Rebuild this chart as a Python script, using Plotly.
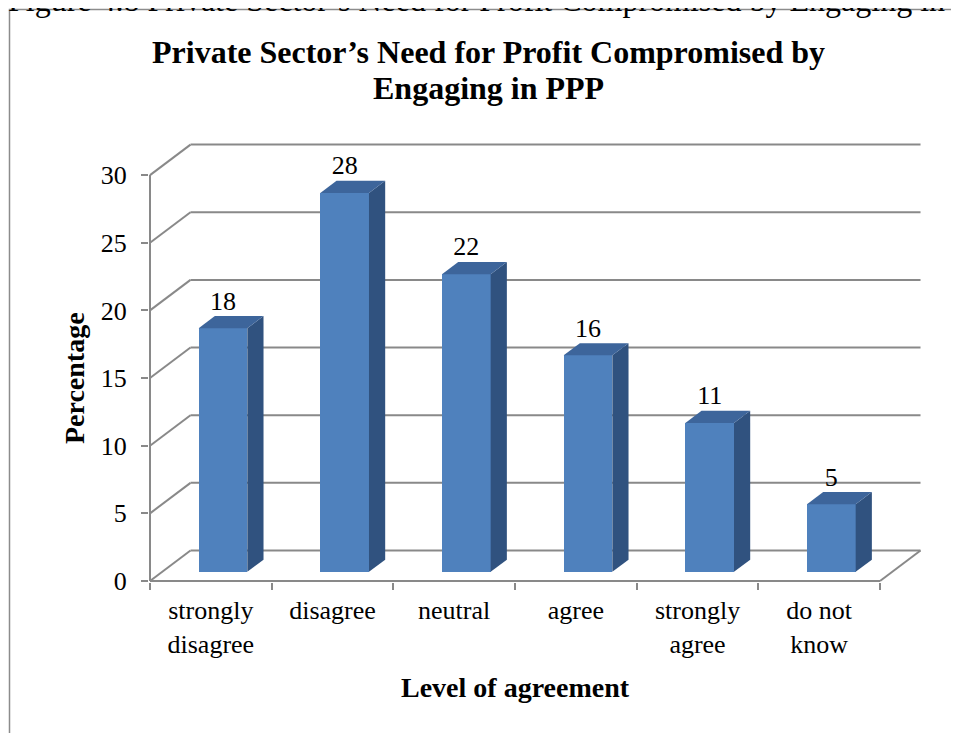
import plotly.graph_objects as go

# ---------------- data ----------------
categories = ["strongly<br>disagree", "disagree", "neutral", "agree", "strongly<br>agree", "do not<br>know"]
values = [18, 28, 22, 16, 11, 5]
y_ticks = [0, 5, 10, 15, 20, 25, 30]
title_lines = ["Private Sector’s Need for Profit Compromised by", "Engaging in PPP"]
x_title = "Level of agreement"
y_title = "Percentage"
caption = "Figure 4.8 Private Sector’s Need for Profit Compromised by Engaging in PPP"

# ---------------- layout / style constants ----------------
OFF = 8                # page body margin of the html page
W, H = 959 - OFF, 733 - OFF
ML, MR, MT, MB = 149 - OFF, 35, 142 - OFF, 151
PX_X = 121.67          # pixels per category
PX_Y = 13.53           # pixels per percentage point
plot_w = W - ML - MR
plot_h = H - MT - MB
x_range = [-1 / PX_X, (plot_w - 1) / PX_X]
y_range = [-1 / PX_Y, (plot_h - 1) / PX_Y]

DX = 40.5 / PX_X       # 3-D depth of the floor, in x units
DY = 30.5 / PX_Y       # 3-D depth of the floor, in y units
BAR_W = 0.4            # bar width (fraction of category)
BAR_FRONT = 0.3        # depth fraction where bar front face sits
BAR_D = 0.4            # bar depth fraction

FONT = "Times New Roman, Liberation Serif, serif"
GRID = "#898989"
FRONT_C = "#4F81BD"
SIDE_C = "#30527F"
TOP_C = "#3D659B"

n = len(categories)
ymax = max(y_ticks)

# helpers: reference-image pixel -> paper fraction
def px_to_paper_x(px):
    return (px - OFF - ML) / plot_w
def px_to_paper_y(py):
    return (H - MB - (py - OFF)) / plot_h

fig = go.Figure()

# ---------------- walls / gridlines (shapes below traces) ----------------
shapes = []
def seg(x0, y0, x1, y1):
    shapes.append(dict(type="line", xref="x", yref="y", x0=x0, y0=y0, x1=x1, y1=y1,
                       line=dict(color=GRID, width=2), layer="below"))

for t in y_ticks:
    seg(DX, t + DY, n + DX, t + DY)      # back wall gridline
    seg(0, t, DX, t + DY)                # side wall diagonal
seg(0, 0, n, 0)                          # floor front edge
seg(n, 0, n + DX, DY)                    # floor right edge
seg(0, 0, 0, ymax)                       # value axis line

# outer border of the chart box
shapes.append(dict(type="rect", xref="paper", yref="paper",
                   x0=px_to_paper_x(9.5), x1=px_to_paper_x(975),
                   y0=px_to_paper_y(745), y1=px_to_paper_y(9.5),
                   line=dict(color="#8c8c8c", width=1.5), layer="below"))

# ---------------- bars ----------------
base = BAR_FRONT * DY
x_off = BAR_FRONT * DX
centers = [i + 0.5 + x_off for i in range(n)]

fig.add_trace(go.Bar(
    x=centers, y=values, base=[base] * n, width=BAR_W,
    marker=dict(color=FRONT_C, line=dict(width=0)),
    hoverinfo="skip", showlegend=False))

for i, v in enumerate(values):
    xl = centers[i] - BAR_W / 2
    xr = centers[i] + BAR_W / 2
    ddx = BAR_D * DX
    ddy = BAR_D * DY
    top = base + v
    # side face
    fig.add_trace(go.Scatter(
        x=[xr, xr, xr + ddx, xr + ddx, xr],
        y=[base, top, top + ddy, base + ddy, base],
        fill="toself", fillcolor=SIDE_C, mode="lines",
        line=dict(width=0, color=SIDE_C), hoverinfo="skip", showlegend=False))
    # top face
    fig.add_trace(go.Scatter(
        x=[xl, xr, xr + ddx, xl + ddx, xl],
        y=[top, top, top + ddy, top + ddy, top],
        fill="toself", fillcolor=TOP_C, mode="lines",
        line=dict(width=0, color=TOP_C), hoverinfo="skip", showlegend=False))

# data labels
fig.add_trace(go.Scatter(
    x=centers, y=[base + v + BAR_D * DY for v in values],
    mode="text", text=[str(v) for v in values], textposition="top center",
    textfont=dict(family=FONT, size=26, color="black"),
    hoverinfo="skip", showlegend=False, cliponaxis=False))

# ---------------- axes ----------------
fig.update_xaxes(
    range=x_range, showgrid=False, zeroline=False, showline=False,
    tickmode="array", tickvals=[i + 0.5 for i in range(n)], ticktext=categories,
    ticks="", ticklabelstandoff=10,
    tickfont=dict(family=FONT, size=26, color="black"),
    minor=dict(tickmode="array", tickvals=list(range(n + 1)), ticks="outside",
               ticklen=7, tickwidth=2, tickcolor=GRID, showgrid=False),
)
fig.update_yaxes(
    range=y_range, showgrid=False, zeroline=False, showline=False,
    tickmode="array", tickvals=y_ticks, ticktext=[str(t) for t in y_ticks],
    ticks="outside", ticklen=7, tickwidth=2, tickcolor=GRID, ticklabelstandoff=9,
    tickfont=dict(family=FONT, size=26, color="black"),
)

annotations = [
    dict(text="<b>" + y_title + "</b>", xref="paper", yref="y",
         x=px_to_paper_x(74), y=ymax / 2, textangle=-90, showarrow=False,
         xanchor="center", yanchor="middle", font=dict(family=FONT, size=28, color="black")),
    dict(text="<b>" + x_title + "</b>", xref="x", yref="paper",
         x=n / 2, y=px_to_paper_y(687), showarrow=False,
         xanchor="center", yanchor="middle", font=dict(family=FONT, size=28, color="black")),
    dict(text=caption, xref="paper", yref="paper",
         x=px_to_paper_x(6), y=px_to_paper_y(20), showarrow=False,
         xanchor="left", yanchor="bottom", font=dict(family=FONT, size=32, color="black")),
]
for k, (line, ypx) in enumerate(zip(title_lines, [52, 88])):
    annotations.append(dict(
        text="<b>" + line + "</b>", xref="paper", yref="paper",
        x=px_to_paper_x(488), y=px_to_paper_y(ypx), showarrow=False,
        xanchor="center", yanchor="middle", font=dict(family=FONT, size=32, color="black")))

fig.update_layout(
    width=W, height=H,
    margin=dict(l=ML, r=MR, t=MT, b=MB, pad=0),
    paper_bgcolor="white", plot_bgcolor="white",
    shapes=shapes, annotations=annotations,
    bargap=0, showlegend=False,
)

fig.write_html("out.html")
